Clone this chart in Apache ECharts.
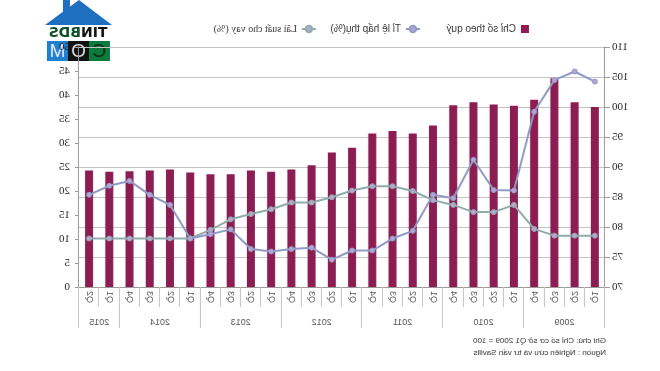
<!DOCTYPE html>
<html>
<head>
<meta charset="utf-8">
<script src="https://cdn.jsdelivr.net/npm/echarts@6/dist/echarts.min.js"></script>
<style>
html,body{margin:0;padding:0;background:#fff;}
#wrap{width:660px;height:371px;transform:scaleX(-1);transform-origin:center;}
#c{width:660px;height:371px;}
</style>
</head>
<body>
<div id="wrap"><div id="c"></div></div>
<script>
var quarterLabels = ['Q1','Q2','Q3','Q4','Q1','Q2','Q3','Q4','Q1','Q2','Q3','Q4','Q1','Q2','Q3','Q4','Q1','Q2','Q3','Q4','Q1','Q2','Q3','Q4','Q1','Q2'];
var years = ['2009','2010','2011','2012','2013','2014','2015'];
var yearSpans = [4,4,4,4,4,4,2];
var indexValues = [100.0,100.8,104.8,101.2,100.2,100.4,100.8,100.3,96.9,95.6,96.0,95.6,93.2,92.4,90.3,89.6,89.2,89.4,88.8,88.8,89.1,89.6,89.4,89.3,89.2,89.4];
var lendingRate = [10.7,10.7,10.7,12.1,17.1,15.6,15.6,17.1,18.1,20.0,21.0,21.0,20.1,18.7,17.6,17.6,16.2,15.2,14.1,11.9,10.1,10.1,10.1,10.1,10.1,10.1];
var absorptionRate = [42.8,44.9,43.1,36.5,20.1,20.2,26.5,18.5,19.2,11.7,10.1,7.6,7.6,5.7,8.2,7.9,7.4,7.9,12.0,11.0,10.1,17.1,19.2,22.1,21.1,19.2];
var seriesNames = ['Chỉ số theo quý','Tỉ lệ hấp thụ(%)','Lãi suất cho vay (%)'];
var notes = ['Ghi chú: Chỉ số cơ sở Q1 2009 = 100','Nguồn : Nghiên cứu và tư vấn Savills'];

var bounds = [0], centres = [], acc = 0;
yearSpans.forEach(function(s){ centres.push(acc + s/2); acc += s; bounds.push(acc); });

var chart = echarts.init(document.getElementById('c'), null, {renderer:'canvas'});
var grey = '#9a9a9a';
var barColor = '#8c1d52';
var lendColor = '#8fadab';
var absColor = '#8e9bc4';
var markColor = '#b4a6d6';

var option = {
  animation:false,
  backgroundColor:'#fff',
  grid:{left:55,right:79,top:47,bottom:84},
  legend:[
    {data:[seriesNames[0]],left:126,top:19,itemWidth:8,itemHeight:8,icon:'rect',textStyle:{fontSize:10,color:'#333',fontFamily:'Liberation Sans'},itemGap:4},
    {data:[seriesNames[1]],left:234,top:19,itemWidth:14,itemHeight:8,textStyle:{fontSize:10,color:'#333',fontFamily:'Liberation Sans'}},
    {data:[seriesNames[2]],left:338,top:19,itemWidth:14,itemHeight:8,textStyle:{fontSize:10,color:'#333',fontFamily:'Liberation Serif'}}
  ],
  xAxis:[
    {type:'category',data:quarterLabels,boundaryGap:true,
     axisLine:{lineStyle:{color:grey}},
     axisTick:{show:true,interval:0,length:20,lineStyle:{color:'#c4c4c4'}},
     axisLabel:{interval:0,rotate:90,fontSize:9,color:'#555',margin:4,fontFamily:'Liberation Sans'}},
    {type:'value',min:0,max:quarterLabels.length,position:'bottom',
     axisLine:{show:false},splitLine:{show:false},
     axisTick:{show:true,length:41,customValues:bounds,lineStyle:{color:'#c4c4c4'}},
     axisLabel:{show:true,customValues:centres,margin:31,fontSize:9,color:'#555',fontFamily:'Liberation Sans',
       formatter:function(v){ var i=centres.indexOf(v); return i>=0?years[i]:''; }}}
  ],
  yAxis:[
    {type:'value',min:70,max:110,interval:5,position:'left',
     axisLine:{show:true,lineStyle:{color:grey}},
     axisTick:{show:true,length:5,lineStyle:{color:grey}},
     splitLine:{show:true,lineStyle:{color:'#c4c4c4',width:1}},
     axisLabel:{fontSize:11,color:'#222',margin:7,fontFamily:'Liberation Serif'}},
    {type:'value',min:0,max:50,interval:5,position:'right',
     axisLine:{show:true,lineStyle:{color:grey}},
     axisTick:{show:true,length:4,lineStyle:{color:grey}},
     splitLine:{show:false},
     axisLabel:{fontSize:11,color:'#222',margin:9,fontFamily:'Liberation Serif'}}
  ],
  series:[
    {name:seriesNames[0],type:'bar',xAxisIndex:0,yAxisIndex:0,data:indexValues,barWidth:8,
     itemStyle:{color:barColor},z:2},
    {name:seriesNames[1],type:'line',xAxisIndex:0,yAxisIndex:1,data:absorptionRate,
     lineStyle:{color:absColor,width:2},itemStyle:{color:markColor,borderColor:absColor,borderWidth:1},
     symbol:'circle',symbolSize:5,showSymbol:true,z:4},
    {name:seriesNames[2],type:'line',xAxisIndex:0,yAxisIndex:1,data:lendingRate,
     lineStyle:{color:lendColor,width:2},itemStyle:{color:markColor,borderColor:lendColor,borderWidth:1},
     symbol:'circle',symbolSize:5,showSymbol:true,z:3}
  ],
  graphic:[
    {type:'text',left:54,top:337,style:{text:notes[0],fontSize:8,fill:'#333',fontFamily:'Liberation Sans'}},
    {type:'text',left:54,top:349,style:{text:notes[1],fontSize:8,fill:'#333',fontFamily:'Liberation Sans'}},
    {type:'group',left:548,top:0,z:100,children:[
      {type:'rect',shape:{x:42,y:2,width:7,height:14},style:{fill:'#1f6fc0'}},
      {type:'polygon',shape:{points:[[0,27],[33,2],[67,27]]},style:{fill:'#1f6fc0'}},
      {type:'rect',shape:{x:0,y:27,width:67,height:16},style:{fill:'#ffffff'}},
      {type:'text',style:{x:34,y:35.5,text:'{a|TIN}{b|BDS}',align:'center',verticalAlign:'middle',
        rich:{a:{fontSize:14,fontWeight:'bold',fill:'#111',fontFamily:'DejaVu Sans'},
              b:{fontSize:14,fontWeight:'bold',fill:'#0d4f2a',fontFamily:'DejaVu Sans'}}}},
      {type:'rect',shape:{x:2,y:43,width:21,height:20},style:{fill:'#0b7a3c'}},
      {type:'rect',shape:{x:23,y:43,width:21,height:20},style:{fill:'#111'}},
      {type:'rect',shape:{x:44,y:43,width:21,height:20},style:{fill:'#1f7fd0'}},
      {type:'text',style:{x:12.5,y:54,text:'C',align:'center',verticalAlign:'middle',fontSize:19,fill:'#0d2a14',fontFamily:'Liberation Sans'}},
      {type:'text',style:{x:33.5,y:54,text:'O',align:'center',verticalAlign:'middle',fontSize:19,fill:'#ddd',fontFamily:'Liberation Sans'}},
      {type:'text',style:{x:54.5,y:54,text:'M',align:'center',verticalAlign:'middle',fontSize:19,fill:'#eef',fontFamily:'Liberation Sans'}}
    ]}
  ]
};
chart.setOption(option);
</script>
</body>
</html>
